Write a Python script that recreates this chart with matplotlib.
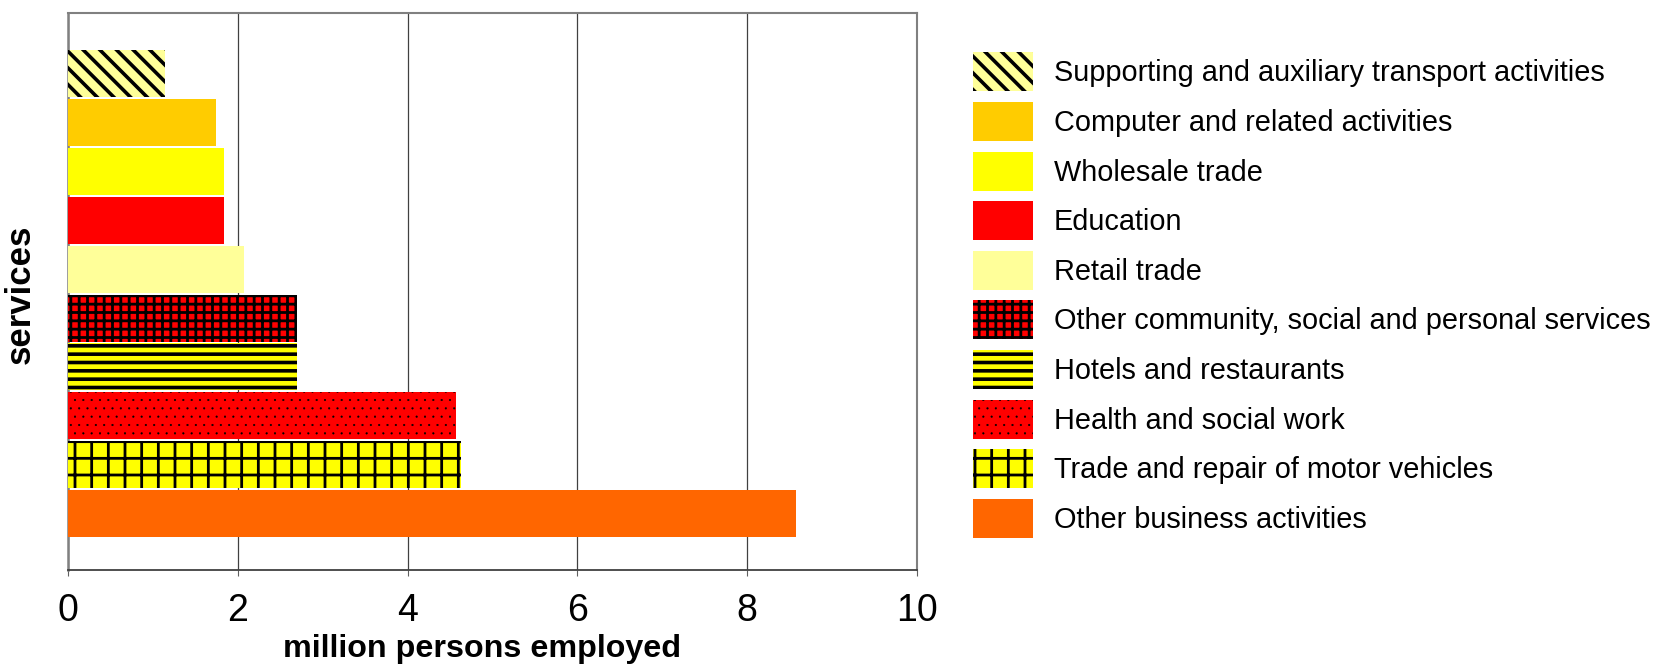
import matplotlib
matplotlib.use("Agg")
import matplotlib.pyplot as plt

# Employment by service activity (million persons), listed bottom to top
sectors = [
    "Other business activities",
    "Trade and repair of motor vehicles",
    "Health and social work",
    "Hotels and restaurants",
    "Other community, social and personal services",
    "Retail trade",
    "Education",
    "Wholesale trade",
    "Computer and related activities",
    "Supporting and auxiliary transport activities",
]
employed = [8.58, 4.63, 4.57, 2.70, 2.70, 2.07, 1.84, 1.84, 1.74, 1.14]
fills = ["#FF6600", "#FFFF00", "#FF0000", "#FFFF00", "#FF0000",
         "#FFFF99", "#FF0000", "#FFFF00", "#FFCC00", "#FFFF99"]
hatches = [None, "+", "..", "--", "++", None, None, None, None, "\\\\"]
hatch_widths = [1.0, 2.0, 0.3, 2.6, 2.0, 1.0, 1.0, 1.0, 1.0, 2.6]

xticks = [0, 2, 4, 6, 8, 10]
xlabel = "million persons employed"
ylabel = "services"

plt.rcParams["font.family"] = ["Liberation Sans", "DejaVu Sans"]
plt.rcParams["hatch.color"] = "black"
plt.rcParams["hatch.linewidth"] = 2.0

W, H = 1665, 665
fig = plt.figure(figsize=(W / 100, H / 100), dpi=100)
ax = fig.add_axes([68 / W, 1 - 570 / H, (917 - 68) / W, (570 - 13) / H])


def apply_hatch_width(patch, width):
    if hasattr(patch, "set_hatch_linewidth"):
        patch.set_hatch_linewidth(width)


bars = []
for i, (name, val, fc, ht, hw) in enumerate(zip(sectors, employed, fills, hatches, hatch_widths)):
    with plt.rc_context({"hatch.linewidth": hw}):
        b = ax.barh(i, val, height=0.96, color=fc, edgecolor="black",
                    linewidth=0, hatch=ht, label=name, zorder=3)
    for p in b.patches:
        apply_hatch_width(p, hw)
    bars.append(b)

ax.set_xlim(0, 10)
ax.set_ylim(-1.15, 10.235)
ax.set_xticks(xticks)
ax.set_xticklabels([str(t) for t in xticks], fontsize=27)
ax.set_yticks([])
ax.tick_params(axis="x", direction="out", length=4, width=0.8,
               color="#606060", pad=12.5)

ax.grid(axis="x", color="#404040", linewidth=0.9, zorder=1)
ax.set_axisbelow(True)

for side in ("left", "top", "right"):
    ax.spines[side].set_color("#808080")
    ax.spines[side].set_linewidth(1.5)
ax.spines["left"].set_linewidth(1.8)
ax.spines["bottom"].set_color("#404040")
ax.spines["bottom"].set_linewidth(1.3)

ax.set_xlabel(xlabel, fontsize=23.2, fontweight="bold")
ax.xaxis.set_label_coords(0.4876, -0.1425)
ax.xaxis.label.set_va("center")
ax.set_ylabel(ylabel, fontsize=25, fontweight="bold")
ax.yaxis.set_label_coords(-0.056, 0.4955)
ax.yaxis.label.set_va("center")

# Legend lists the series top to bottom, in the same order as the bars
fs_px = 28.9
handles = bars[::-1]
labels = sectors[::-1]
leg = fig.legend(handles, labels, loc="upper left",
                 bbox_to_anchor=(973 / W, 1 - 52.5 / H),
                 frameon=False, fontsize=fs_px * 72 / 100,
                 handlelength=60 / fs_px, handleheight=1.699,
                 handletextpad=21 / fs_px, labelspacing=10.6 / fs_px,
                 borderpad=0, borderaxespad=0)
for handle, hw in zip(leg.legend_handles, hatch_widths[::-1]):
    apply_hatch_width(handle, hw)

fig.savefig("out.png", dpi=100)
